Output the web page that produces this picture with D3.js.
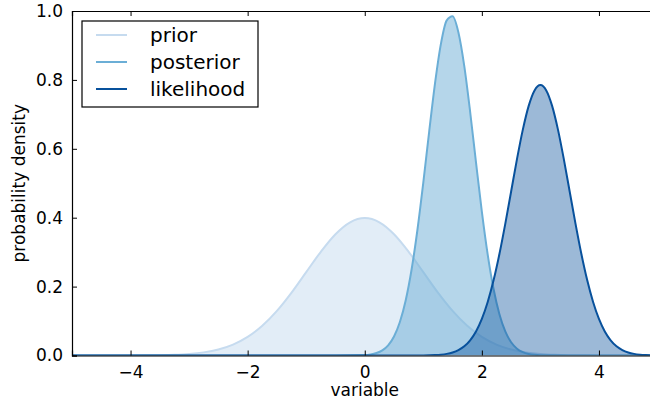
<!DOCTYPE html>
<html>
<head>
<meta charset="utf-8">
<script src="https://cdn.jsdelivr.net/npm/d3@7"></script>
<style>
  body { margin: 0; background: #fff; }
  svg { display: block; font-family: "DejaVu Sans", sans-serif; }
</style>
</head>
<body>
<div id="vis"></div>
<script>
// densities
let priorX = [-5, -4.75, -4.5, -4.25, -4, -3.75, -3.5, -3.25, -3, -2.75, -2.5, -2.25, -2, -1.75, -1.5, -1.25, -1, -0.75, -0.5, -0.25,
              0, 0.25, 0.5, 0.75, 1, 1.25, 1.5, 1.75, 2, 2.25, 2.5, 2.75, 3, 3.25, 3.5, 3.75, 4, 4.25, 4.5, 4.75, 5]
let priorY = [0, 0, 0, 0, 0.0001, 0.0004, 0.0009, 0.0020, 0.0044, 0.0091, 0.0175, 0.0317, 0.0540, 0.0863, 0.1295, 0.1826, 0.2420, 0.3011, 0.3521, 0.3867,
              0.3989, 0.3867, 0.3521, 0.3011, 0.2420, 0.1826, 0.1295, 0.0863, 0.0540, 0.0317, 0.0175, 0.0091, 0.0044, 0.0020, 0.0009, 0.0004, 0.0001, 0, 0, 0, 0]

let posteriorX = [-5, -0.5, 0, 0.1, 0.2, 0.3, 0.4, 0.5, 0.6, 0.7, 0.8, 0.9, 1.0, 1.1, 1.2, 1.3, 1.4, 1.5, 1.6, 1.7, 1.8, 1.9,
                  2.0, 2.1, 2.2, 2.3, 2.4, 2.5, 2.6, 2.7, 2.8, 2.9, 3.0, 3.5, 5]
let posteriorY = [0, 0, 0.0013, 0.0031, 0.0071, 0.0149, 0.0296, 0.0553, 0.0972, 0.1605, 0.2496, 0.3650, 0.5020, 0.6493, 0.7899, 0.9039, 0.9728, 0.9848, 0.9376, 0.8398, 0.7074, 0.5605,
                  0.4177, 0.2928, 0.1930, 0.1197, 0.0698, 0.0383, 0.0198, 0.0096, 0.0044, 0.0019, 0.0008, 0, 0]

let likelihoodX = [-5, 1.0, 1.1, 1.2, 1.3, 1.4, 1.5, 1.6, 1.7, 1.8, 1.9, 2.0, 2.1, 2.2, 2.3, 2.4, 2.5, 2.6, 2.7, 2.8, 2.9,
                   3.0, 3.1, 3.2, 3.3, 3.4, 3.5, 3.6, 3.7, 3.8, 3.9, 4.0, 4.1, 4.2, 4.3, 4.4, 4.5, 4.6, 4.7, 4.8, 4.9, 5.0]
let likelihoodY = [0, 0.0003, 0.0006, 0.0012, 0.0024, 0.0047, 0.0087, 0.0156, 0.0267, 0.0441, 0.0698, 0.1062, 0.1553, 0.2182, 0.2946, 0.3821, 0.4761, 0.5700, 0.6557, 0.7247, 0.7695,
                   0.7850, 0.7695, 0.7247, 0.6557, 0.5700, 0.4761, 0.3821, 0.2946, 0.2182, 0.1553, 0.1062, 0.0698, 0.0441, 0.0267, 0.0156, 0.0087, 0.0047, 0.0024, 0.0012, 0.0006, 0.0003]

let seriesNames = ["prior", "posterior", "likelihood"]
let xTicks = [-4, -2, 0, 2, 4]
let yTicks = [0, 0.2, 0.4, 0.6, 0.8, 1.0]

let width = 650, height = 403
let x = d3.scaleLinear().domain([-5, 5]).range([72, 657.5])
let y = d3.scaleLinear().domain([0, 1]).range([355.5, 11])

let series = [
    {name: "prior", xs: priorX, ys: priorY, stroke: "#c6dbef", fill: "#c6dbef", alpha: 0.5},
    {name: "posterior", xs: posteriorX, ys: posteriorY, stroke: "#6baed6", fill: "#6baed6", alpha: 0.5},
    {name: "likelihood", xs: likelihoodX, ys: likelihoodY, stroke: "#08519c", fill: "#08519c", alpha: 0.4}
]

let svg = d3.select("#vis").append("svg")
            .attr("width", width)
            .attr("height", height)

svg.append("clipPath").attr("id", "plot")
   .append("rect")
   .attr("x", x(-5)).attr("y", y(1))
   .attr("width", x(5) - x(-5)).attr("height", y(0) - y(1))

let plot = svg.append("g").attr("clip-path", "url(#plot)")

let area = d3.area().curve(d3.curveMonotoneX)
let line = d3.line().curve(d3.curveMonotoneX)

series.forEach(s => {
    let pts = s.xs.map((v, i) => [v, s.ys[i]])
    plot.append("path")
        .attr("d", area.x(d => x(d[0])).y0(y(0)).y1(d => y(d[1]))(pts))
        .attr("fill", s.fill)
        .attr("fill-opacity", s.alpha)
    plot.append("path")
        .attr("d", line.x(d => x(d[0])).y(d => y(d[1]))(pts))
        .attr("fill", "none")
        .attr("stroke", s.stroke)
        .attr("stroke-width", 2)
})

// axes, ticks pointing inward like the classic style
let fmtX = d => d3.format("d")(d).replace("-", "\u2212")
let xAxis = d3.axisBottom(x).tickValues(xTicks).tickSize(-5).tickPadding(10).tickFormat(fmtX)
let xTop = d3.axisTop(x).tickValues(xTicks).tickSize(-5).tickFormat("")
let yAxis = d3.axisLeft(y).tickValues(yTicks).tickSize(-5).tickPadding(9).tickFormat(d3.format(".1f"))

function style(g) {
    g.select(".domain").attr("stroke", "#000").attr("stroke-width", 1.2)
    g.selectAll(".tick line").attr("stroke", "#000").attr("stroke-width", 1)
    g.selectAll(".tick text").attr("font-size", 17).attr("fill", "#000")
        .attr("font-family", "DejaVu Sans, sans-serif")
}

svg.append("g").attr("transform", `translate(0,${y(0)})`).call(xAxis).call(style)
svg.append("g").attr("transform", `translate(0,${y(1)})`).call(xTop).call(style)
svg.append("g").attr("transform", `translate(${x(-5)},0)`).call(yAxis).call(style)

svg.append("text")
   .attr("x", x(0)).attr("y", 396)
   .attr("text-anchor", "middle")
   .attr("font-size", 17)
   .text("variable")

svg.append("text")
   .attr("transform", `translate(25,${(y(0) + y(1)) / 2}) rotate(-90)`)
   .attr("text-anchor", "middle")
   .attr("font-size", 17)
   .text("probability density")

// legend
let legend = svg.append("g")
legend.append("rect")
      .attr("x", 82).attr("y", 21)
      .attr("width", 176).attr("height", 86)
      .attr("fill", "#fff").attr("stroke", "#000").attr("stroke-width", 1.2)

let items = legend.selectAll("g.item")
    .data(series)
    .join("g")
    .attr("class", "item")
    .attr("transform", (d, i) => `translate(0,${35 + i * 27})`)

items.append("line")
     .attr("x1", 96).attr("x2", 127)
     .attr("stroke", d => d.stroke)
     .attr("stroke-width", 2)

items.append("text")
     .attr("x", 150).attr("y", 7)
     .attr("font-size", 20)
     .text((d, i) => seriesNames[i])
</script>
</body>
</html>
